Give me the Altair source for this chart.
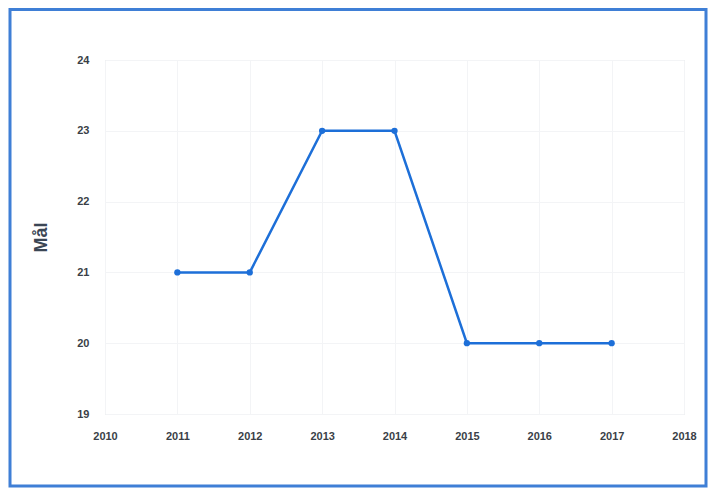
import altair as alt
import pandas as pd

years = [2011, 2012, 2013, 2014, 2015, 2016, 2017]
values = [21, 21, 23, 23, 20, 20, 20]
x_ticks = [2010, 2011, 2012, 2013, 2014, 2015, 2016, 2017, 2018]
y_ticks = [19, 20, 21, 22, 23, 24]

df = pd.DataFrame({"År": years, "Mål": values})

W, H = 579, 354
PAD_L, PAD_T, PAD_R, PAD_B = 97, 52, 24, 74

x = alt.X("År:Q", scale=alt.Scale(domain=[2010, 2018], nice=False),
          axis=alt.Axis(values=x_ticks, format="d", title=None, domain=False, ticks=False,
                        labelPadding=16, labelFontSize=11, labelFontWeight="bold",
                        labelColor="#3a3f47", labelFont="Liberation Sans",
                        gridColor="#f3f4f6", gridWidth=1, labelFlush=False))
y = alt.Y("Mål:Q", scale=alt.Scale(domain=[19, 24], nice=False, zero=False),
          axis=alt.Axis(values=y_ticks, title="Mål", domain=False, ticks=False,
                        labelPadding=16, labelFontSize=11, labelFontWeight="bold",
                        labelColor="#3a3f47", labelFont="Liberation Sans",
                        titleFontSize=18, titleFont="Liberation Sans", titleFontWeight="bold",
                        titleColor="#3b4654", titlePadding=26,
                        gridColor="#f3f4f6", gridWidth=1))

line = alt.Chart(df).mark_line(color="#1d6fd8", strokeWidth=2.5,
                               point=alt.OverlayMarkDef(color="#1d6fd8", size=40, filled=True, opacity=1)
                               ).encode(x=x, y=y)

frame = alt.Chart(pd.DataFrame({"a": [0]})).mark_rect(
    fill=None, stroke="#3f7fd6", strokeWidth=3
).encode(
    x=alt.value(-95), x2=alt.value(W + PAD_R - 2),
    y=alt.value(-PAD_T + 1.5), y2=alt.value(H + PAD_B - 2),
)

chart = alt.layer(frame, line).properties(
    width=W, height=H,
    autosize=alt.AutoSizeParams(type="none"),
    padding={"left": PAD_L, "top": PAD_T, "right": PAD_R, "bottom": PAD_B},
).configure_view(stroke=None).configure(background="white")

chart.save("out.html", embed_options={"renderer": "svg", "actions": False})
